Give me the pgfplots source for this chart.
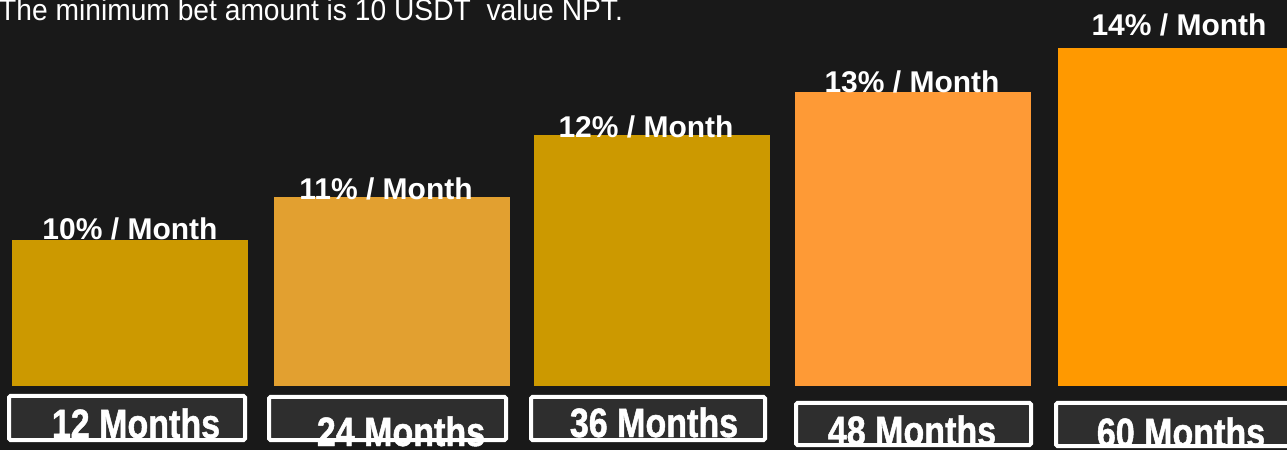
\documentclass[border=0pt]{standalone}
\usepackage{pgfplots}
\pgfplotsset{compat=1.18}
\usepackage{fontspec}
\setmainfont{Liberation Sans}
\newfontfamily\narrowfont[FakeStretch=0.83, BoldFeatures={FakeBold=1.2}]{Liberation Sans}
\newfontfamily\topfont[FakeStretch=0.94]{Liberation Sans}
\definecolor{bg}{HTML}{191919}
\definecolor{boxfill}{HTML}{2E2E2E}
\definecolor{cA}{HTML}{CC9900}
\definecolor{cB}{HTML}{E2A030}
\definecolor{cC}{HTML}{CC9900}
\definecolor{cD}{HTML}{FE9A36}
\definecolor{cE}{HTML}{FF9900}
\tikzset{monthbox/.style={draw=white, line width=4bp, fill=boxfill, rounded corners=1.5bp, inner sep=0pt},
  monthtxt/.style={anchor=base, inner sep=0pt, text=white, font=\narrowfont\bfseries\fontsize{41bp}{41bp}\selectfont}}
\begin{document}
\begin{tikzpicture}
\useasboundingbox (0,0) rectangle (1287bp,450bp);
\fill[bg] (0,0) rectangle (1287bp,450bp);
\begin{axis}[at={(0,0)}, anchor=south west,
  width=1287bp, height=450bp, scale only axis, hide axis,
  xmin=0, xmax=1287, ymin=-64, ymax=386, clip=false,
  ybar, bar width=236, bar shift=0pt,
  nodes near coords, point meta=explicit symbolic,
  every node near coord/.append style={font=\bfseries\fontsize{30bp}{30bp}\selectfont, text=white, anchor=base, inner sep=0pt}]
\addplot[fill=cA, draw=none, nodes near coords style={yshift=1bp}] coordinates {(130,146) [10\% / Month]};
\addplot[fill=cB, draw=none, nodes near coords style={xshift=-6bp, yshift=-2bp}] coordinates {(392,189) [11\% / Month]};
\addplot[fill=cC, draw=none, nodes near coords style={xshift=-6bp, yshift=-2bp}] coordinates {(652,251) [12\% / Month]};
\addplot[fill=cD, draw=none, nodes near coords style={xshift=-1bp, yshift=0bp}] coordinates {(913,294) [13\% / Month]};
\addplot[fill=cE, draw=none, nodes near coords style={xshift=3bp, yshift=12bp}] coordinates {(1176,338) [14\% / Month]};
\node[monthbox, minimum width=236bp, minimum height=44bp] at (axis cs:127,-32) {};
\node[monthbox, minimum width=237bp, minimum height=43bp] at (axis cs:387.5,-32.5) {};
\node[monthbox, minimum width=234bp, minimum height=43bp] at (axis cs:648,-32.5) {};
\node[monthbox, minimum width=235bp, minimum height=42bp] at (axis cs:913.5,-38) {};
\node[monthbox, minimum width=234bp, minimum height=43bp] at (axis cs:1173,-38.5) {};
\node[monthtxt] at (axis cs:136,-52) {12 Months};
\node[monthtxt] at (axis cs:401,-60) {24 Months};
\node[monthtxt] at (axis cs:654,-51) {36 Months};
\node[monthtxt] at (axis cs:912,-59) {48 Months};
\node[monthtxt] at (axis cs:1181,-61) {60 Months};
\node[anchor=base west, inner sep=0pt, text=white, font=\topfont\fontsize{30bp}{30bp}\selectfont] at (axis cs:-1,365.5) {The minimum bet amount is 10 USDT\ \ value NPT.};
\end{axis}
\end{tikzpicture}
\end{document}
